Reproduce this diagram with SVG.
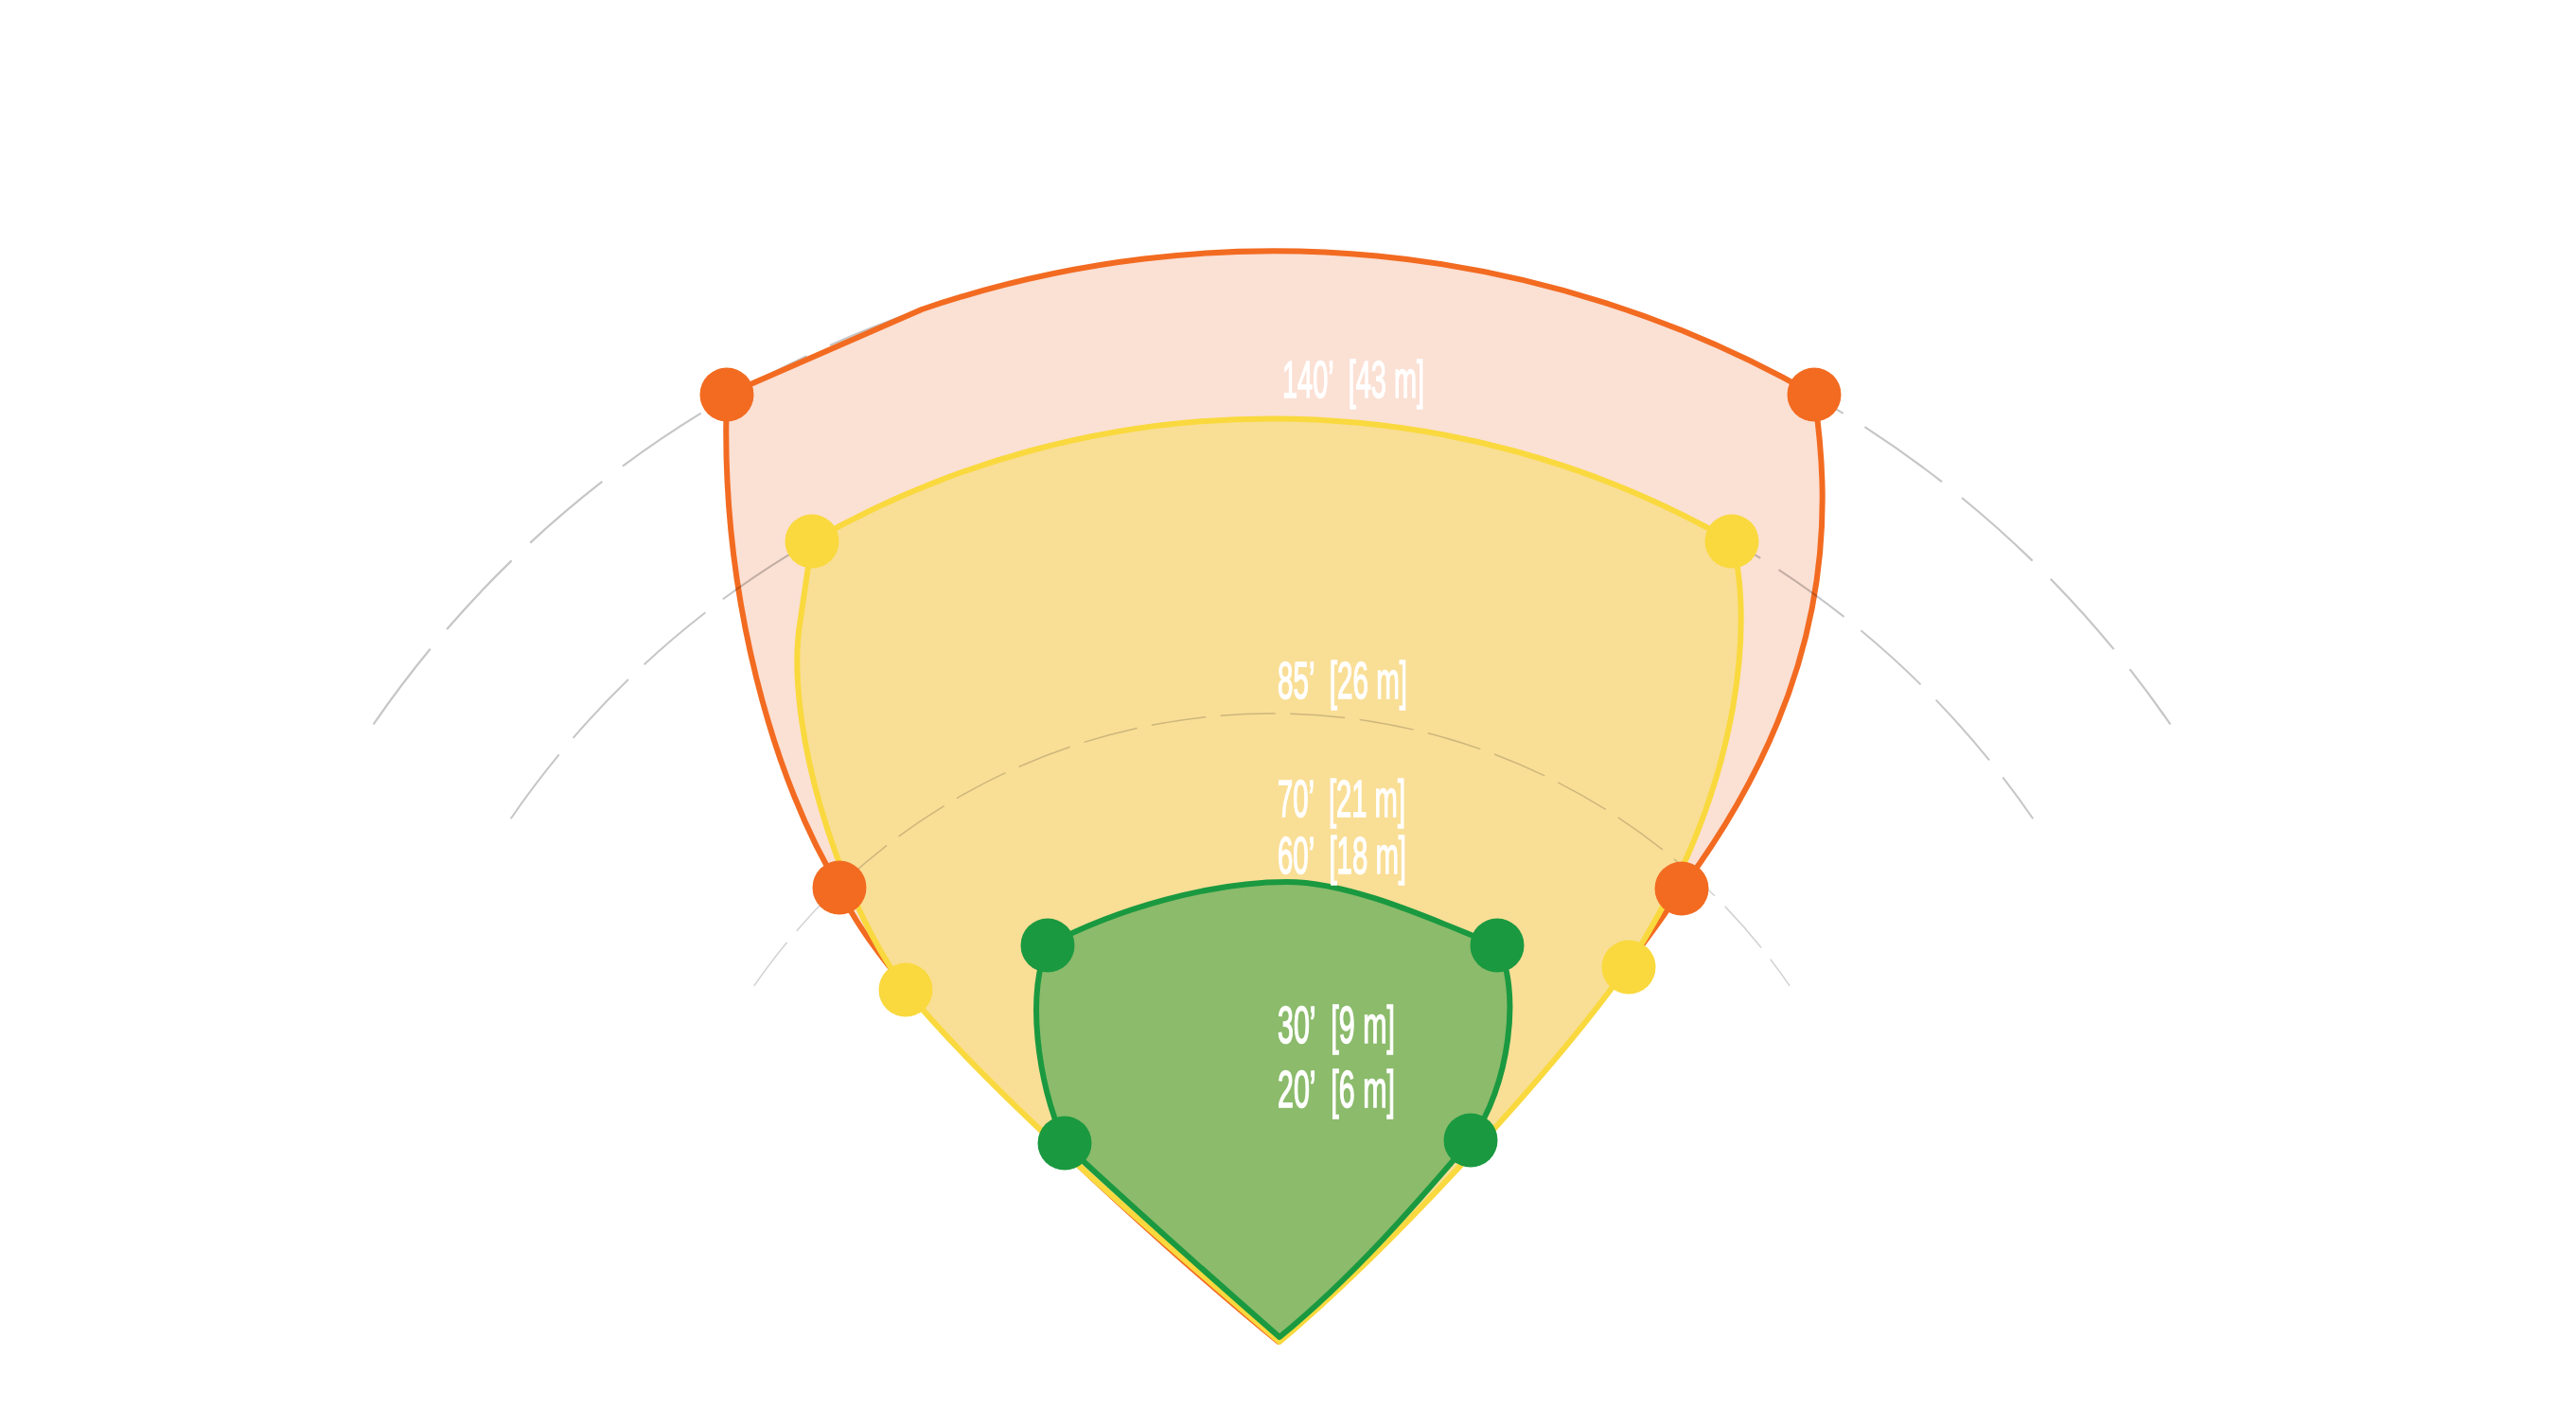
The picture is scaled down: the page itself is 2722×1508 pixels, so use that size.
<svg xmlns="http://www.w3.org/2000/svg" width="2722" height="1508" viewBox="0 0 2722 1508">
<style>
.arc{fill:none;stroke:#c6c6c6;mix-blend-mode:multiply}
.a1{stroke-width:2.2;stroke-dasharray:100 27}
.a2{stroke-width:2;stroke-dasharray:85 23}
.a3{stroke-width:1.5;stroke-dasharray:58 15.6;stroke:#d2d2d2}
.zo{fill:#fbe0d4;stroke:#f26b21;stroke-width:6;stroke-linejoin:round}
.zy{fill:#f9de96;stroke:#f9d93e;stroke-width:6;stroke-linejoin:round}
.zg{fill:#8bbb6b;stroke:#1a9940;stroke-width:6;stroke-linejoin:round}
.do{fill:#f26b21}
.dy{fill:#f9d93e}
.dg{fill:#1a9940}
.lbl text{fill:#ffffff;stroke:#ffffff;stroke-width:1.6;font-family:"Liberation Sans",Arial,sans-serif;font-size:55px;white-space:pre}
</style>
<rect width="2722" height="1508" fill="#ffffff"/>
<g id="connectors">
<path id="arc-outer" class="arc a1" d="M394.6,765.5 A1152,1152 0 0 1 2293.4,765.5"/>
</g>
<g id="zone-140">
<path class="zo" d="M768,417 L974,327 A1152,1152 0 0 1 1917,417 C1935,540 1940,720 1777,939 C1700,1060 1470,1320 1351,1418 C1230,1320 930,1050 887,938 C820,830 760,630 768,417 Z"/>
</g>
<g id="connectors-mid">
<path id="arc-mid" class="arc a2" d="M539.7,865.2 A976,976 0 0 1 2148.3,865.2"/>
</g>
<g id="zone-85">
<path class="zy" d="M858,572 A976,976 0 0 1 1830,572 C1850,640 1850,820 1720,1021 C1650,1120 1480,1310 1352,1418 C1250,1330 1060,1170 957,1046 C880,940 830,760 845,660 Z"/>
</g>
<g id="connectors-inner">
<path id="arc-inner" class="arc a3" d="M796.8,1041.9 A664,664 0 0 1 1891.2,1041.9"/>
</g>
<g id="zone-30">
<path class="zg" d="M1107,999 C1180,960 1280,932 1360,932 C1430,932 1520,975 1582,999 C1608,1045 1595,1150 1554,1205 C1505,1262 1435,1345 1352,1413 C1280,1350 1180,1260 1125,1209 C1095,1140 1085,1050 1107,999 Z"/>
</g>
<g id="dots">
<circle class="do" cx="768" cy="417" r="28.5"/>
<circle class="do" cx="1917" cy="417" r="28.5"/>
<circle class="do" cx="887" cy="938" r="28.5"/>
<circle class="do" cx="1777" cy="939" r="28.5"/>
<circle class="dy" cx="858" cy="572" r="28.5"/>
<circle class="dy" cx="1830" cy="572" r="28.5"/>
<circle class="dy" cx="957" cy="1046" r="28.5"/>
<circle class="dy" cx="1721" cy="1022" r="28.5"/>
<circle class="dg" cx="1107" cy="999" r="28.5"/>
<circle class="dg" cx="1582" cy="999" r="28.5"/>
<circle class="dg" cx="1125" cy="1208" r="28.5"/>
<circle class="dg" cx="1554" cy="1205" r="28.5"/>
</g>
<g id="labels" class="lbl">
<text x="1355" y="420" textLength="150" lengthAdjust="spacingAndGlyphs" xml:space="preserve">140’  [43 m]</text>
<text x="1350" y="738" textLength="137" lengthAdjust="spacingAndGlyphs" xml:space="preserve">85’  [26 m]</text>
<text x="1350" y="863" textLength="135" lengthAdjust="spacingAndGlyphs" xml:space="preserve">70’  [21 m]</text>
<text x="1350" y="923" textLength="136" lengthAdjust="spacingAndGlyphs" xml:space="preserve">60’  [18 m]</text>
<text x="1350" y="1102" textLength="124" lengthAdjust="spacingAndGlyphs" xml:space="preserve">30’  [9 m]</text>
<text x="1350" y="1170" textLength="124" lengthAdjust="spacingAndGlyphs" xml:space="preserve">20’  [6 m]</text>
</g>
</svg>
